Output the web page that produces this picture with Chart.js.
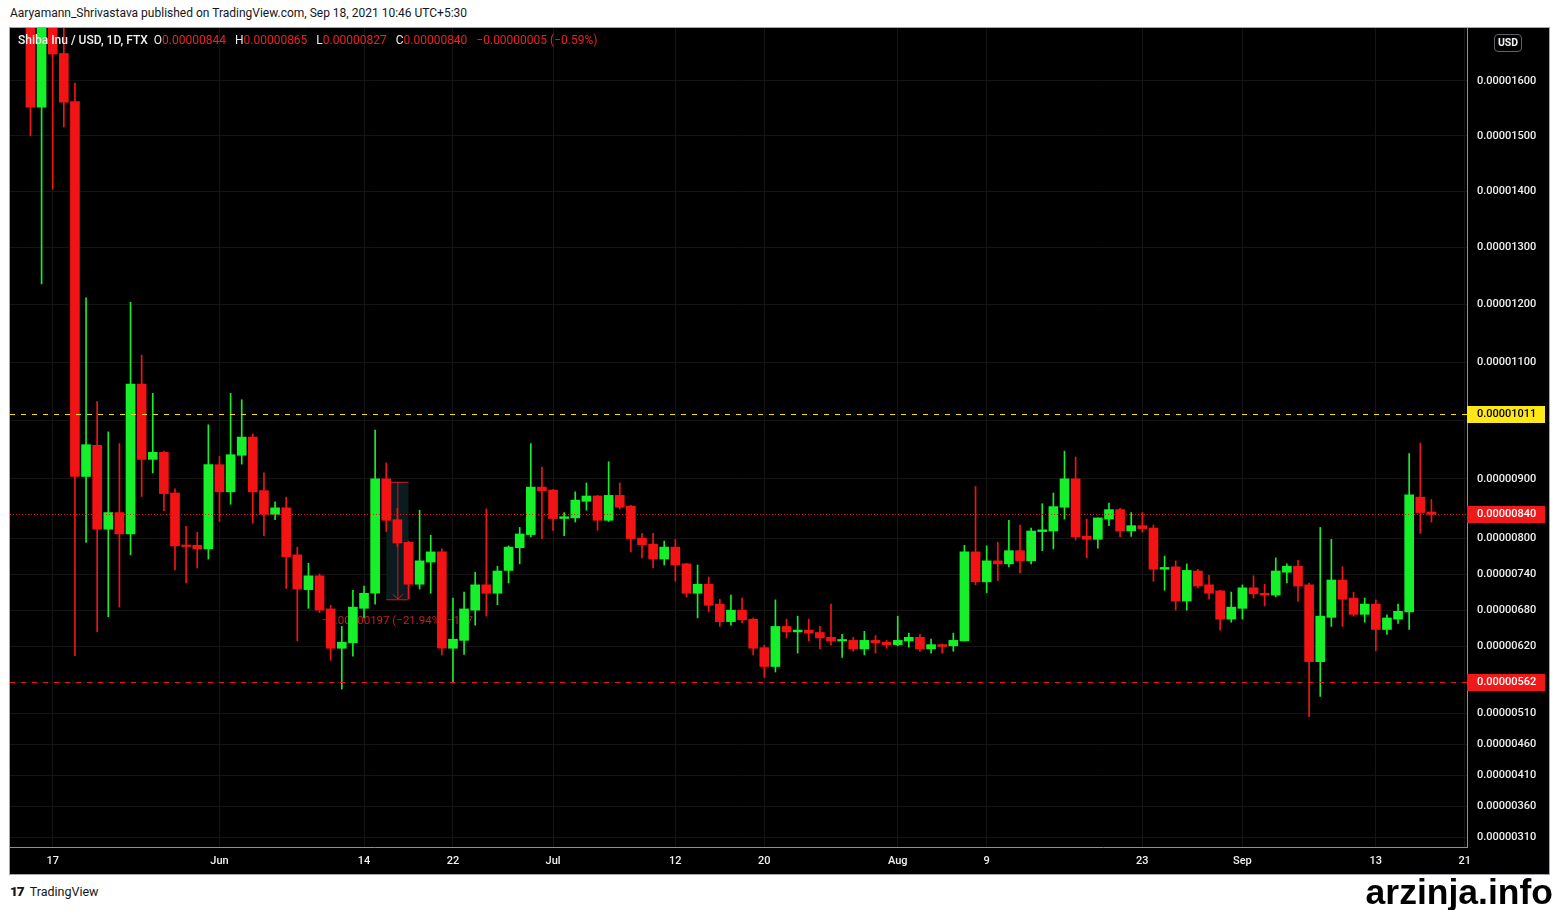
<!DOCTYPE html>
<html>
<head>
<meta charset="utf-8">
<script src="https://cdn.jsdelivr.net/npm/chart.js@4.4.1/dist/chart.umd.min.js"></script>
<style>
  html, body { margin: 0; padding: 0; background: #fff; }
  body { width: 1559px; height: 910px; position: relative; overflow: hidden; font-family: Roboto, 'Open Sans', sans-serif; }
  #pub { position: absolute; left: 10px; top: 6px; font-size: 12px; color: #131722; white-space: nowrap; }
  #frame { position: absolute; left: 9px; top: 27px; width: 1541px; height: 848px; box-sizing: border-box; border: 1px solid #a3a6af; background: #000; }
  #wrap { position: absolute; left: 0; top: 0; width: 1539px; height: 846px; }
  #legend { position: absolute; left: 8px; top: 5px; font-size: 12px; color: #eee; white-space: nowrap; pointer-events: none; }
  #legend b { font-weight: 500; color: #f2f2f2; }
  #legend .v { color: #ee2020; margin-right: 6px; }
  #usd { position: absolute; left: 1484px; top: 6px; width: 26px; height: 16px; line-height: 16px; border: 1px solid #5d606b; border-radius: 4px; font-size: 10.5px; font-weight: 700; color: #f2f2f2; text-align: center; }
  #tv { position: absolute; left: 10px; top: 883px; font-size: 12.5px; color: #131722; white-space: nowrap; }
  #tv span { font-weight: 900; font-size: 13.5px; letter-spacing: -1px; margin-right: 6px; }
  #wm { position: absolute; right: 6px; top: 872px; font-family: 'Liberation Sans', Arial, sans-serif; font-weight: 700; font-size: 35.5px; color: #000; }
</style>
</head>
<body>
<div id="pub">Aaryamann_Shrivastava published on TradingView.com, Sep 18, 2021 10:46 UTC+5:30</div>
<div id="frame">
  <div id="wrap"><canvas id="chart"></canvas></div>
  <div id="legend"><b>Shiba Inu / USD, 1D, FTX</b>&nbsp; O<span class="v">0.00000844</span> H<span class="v">0.00000865</span> L<span class="v">0.00000827</span> C<span class="v">0.00000840</span> <span class="v">−0.00000005 (−0.59%)</span></div>
  <div id="usd">USD</div>
</div>
<div id="tv"><span>17</span>TradingView</div>
<div id="wm">arzinja.info</div>

<script>
// prices are in units of 0.00000001 USD, one candle per day from 2021-05-15
const open = [
  1790, 1552, 1730, 1650, 1562, 904, 957, 815, 843, 807,
  1062, 933, 945, 876, 788, 788, 782, 924, 878, 940,
  971, 880, 840, 851, 772, 714, 737, 682, 617, 626,
  683, 708, 900, 831, 793, 723, 760, 777, 617, 630,
  680, 722, 708, 746, 784, 806, 886, 881, 833, 834,
  862, 871, 830, 872, 854, 800, 790, 765, 785, 757,
  708, 723, 690, 661, 680, 665, 618, 587, 653, 644,
  647, 643, 635, 629, 630, 616, 630, 627, 623, 629,
  635, 616, 623, 621, 629, 777, 727, 762, 757, 779,
  762, 811, 812, 852, 900, 803, 798, 832, 848, 812,
  821, 817, 748, 752, 695, 745, 722, 712, 665, 683,
  717, 708, 705, 743, 753, 722, 595, 668, 730, 700,
  673, 690, 648, 665, 677, 869, 844
];
const high = [
  1880, 1820, 1780, 1720, 1596, 1212, 1032, 980, 960, 1204,
  1112, 1046, 947, 883, 820, 810, 992, 938, 1046, 1035,
  976, 910, 861, 869, 785, 758, 740, 688, 653, 713,
  720, 983, 927, 850, 795, 847, 805, 782, 700, 710,
  743, 849, 753, 787, 818, 960, 920, 882, 843, 878,
  893, 872, 929, 893, 855, 808, 808, 795, 798, 758,
  755, 735, 698, 705, 700, 667, 622, 697, 665, 670,
  665, 653, 690, 640, 635, 645, 638, 630, 670, 642,
  640, 632, 624, 642, 788, 887, 787, 793, 830, 822,
  817, 858, 876, 947, 937, 832, 834, 859, 850, 843,
  843, 822, 770, 762, 757, 748, 738, 713, 710, 722,
  737, 723, 767, 757, 763, 725, 818, 798, 752, 710,
  700, 697, 672, 690, 943, 961, 865
];
const low = [
  1500, 1236, 1404, 1516, 605, 793, 644, 669, 685, 772,
  870, 910, 846, 747, 725, 750, 765, 828, 857, 925,
  825, 804, 831, 716, 629, 683, 676, 597, 550, 604,
  667, 690, 811, 786, 699, 715, 708, 606, 560, 607,
  655, 670, 689, 725, 757, 802, 799, 813, 804, 827,
  847, 813, 828, 849, 777, 767, 750, 755, 728, 702,
  667, 677, 653, 655, 659, 606, 569, 578, 634, 609,
  629, 616, 622, 602, 612, 606, 609, 617, 621, 619,
  612, 609, 609, 612, 629, 722, 709, 729, 752, 742,
  757, 779, 782, 832, 797, 767, 783, 821, 802, 803,
  810, 728, 713, 680, 680, 717, 698, 647, 660, 665,
  700, 687, 702, 725, 695, 505, 538, 653, 653, 670,
  660, 613, 640, 658, 648, 808, 827
];
const close = [
  1552, 1730, 1649, 1561, 904, 958, 815, 843, 807, 1062,
  933, 945, 875, 787, 786, 782, 924, 878, 941, 971,
  878, 840, 851, 769, 715, 737, 680, 617, 627, 685,
  708, 900, 830, 792, 723, 762, 777, 617, 632, 682,
  722, 708, 745, 785, 807, 886, 880, 833, 836, 864,
  871, 830, 872, 852, 799, 789, 765, 785, 755, 708,
  723, 688, 661, 680, 664, 617, 587, 653, 644, 647,
  642, 634, 629, 631, 616, 630, 626, 623, 630, 635,
  616, 623, 620, 630, 777, 727, 762, 757, 779, 762,
  812, 814, 853, 900, 802, 798, 834, 848, 812, 821,
  816, 748, 751, 695, 746, 720, 708, 665, 685, 717,
  707, 705, 745, 753, 720, 595, 670, 730, 698, 673,
  690, 648, 667, 678, 873, 843, 840
];

// x axis: day index (0 = May 15) and its labels
const xTickDays = [2, 17, 30, 38, 47, 58, 66, 78, 86, 100, 109, 121, 129];
const xTickLabels = ['17', 'Jun', '14', '22', 'Jul', '12', '20', 'Aug', '9', '23', 'Sep', '13', '21'];
const yTicks = [1600, 1500, 1400, 1300, 1200, 1100, 1000, 900, 800, 740, 680, 620, 560, 510, 460, 410, 360, 310];

// horizontal levels: alert line, last price, low line
const levels = [1011, 840, 562];
// measure tool drawn on the chart (Jun 16 -> Jun 18)
const measureDays = [32, 34];
const measurePrices = [895, 698];
const measureText = '−0.00000197 (−21.94%) −197';

const UP = '#15f02a';
const DOWN = '#f21414';
const levelStyle = [
  { line: '#f7df00', box: '#ffe81a', text: '#000', dash: [5, 6] },
  { line: '#f21414', box: '#f01818', text: '#fff', dash: [1, 2] },
  { line: '#f21414', box: '#f01818', text: '#fff', dash: [5, 6] }
];

const fmt = v => (v / 1e8).toFixed(8);

// TradingView's price axis here is slightly compressed at the top
const K = 4.74e-5;
class WarpScale extends Chart.LinearScale {
  warp(v) { return v - K * v * v; }
  unwarp(g) { return (1 - Math.sqrt(1 - 4 * K * g)) / (2 * K); }
  getPixelForValue(value) {
    if (value === null || value === undefined || isNaN(value)) return NaN;
    const g0 = this.warp(this.min), g1 = this.warp(this.max);
    return this.getPixelForDecimal((this.warp(value) - g0) / (g1 - g0));
  }
  getValueForPixel(pixel) {
    const g0 = this.warp(this.min), g1 = this.warp(this.max);
    return this.unwarp(g0 + this.getDecimalForPixel(pixel) * (g1 - g0));
  }
}
WarpScale.id = 'warp';
WarpScale.defaults = Chart.LinearScale.defaults;
Chart.register(WarpScale);

const days = open.map((_, i) => i);
const colors = open.map((o, i) => close[i] >= o ? UP : DOWN);

const overlay = {
  id: 'overlay',
  beforeDatasetsDraw(chart) {
    const { ctx, chartArea: a, scales: { x, y } } = chart;
    const x0 = x.getPixelForValue(measureDays[0]);
    const x1 = x.getPixelForValue(measureDays[1]);
    const xm = (x0 + x1) / 2;
    const yt = y.getPixelForValue(measurePrices[0]);
    const yb = y.getPixelForValue(measurePrices[1]);
    ctx.save();
    ctx.beginPath();
    ctx.rect(a.left, a.top, a.right - a.left, a.bottom - a.top);
    ctx.clip();
    ctx.fillStyle = '#0a1c20';
    ctx.fillRect(x0, yt, x1 - x0, yb - yt);
    ctx.strokeStyle = '#d01c1c';
    ctx.lineWidth = 1;
    ctx.beginPath();
    ctx.moveTo(x0 + 5, yt + 0.5); ctx.lineTo(x1, yt + 0.5);
    ctx.moveTo(x0, yb + 0.5); ctx.lineTo(x1, yb + 0.5);
    ctx.moveTo(xm + 0.5, yt); ctx.lineTo(xm + 0.5, yb);
    ctx.moveTo(xm - 4.5, yb - 5); ctx.lineTo(xm + 0.5, yb); ctx.lineTo(xm + 5.5, yb - 5);
    ctx.stroke();
    ctx.fillStyle = '#c81c1c';
    ctx.font = '11.5px Roboto';
    ctx.textAlign = 'center';
    ctx.textBaseline = 'middle';
    ctx.fillText(measureText, xm, yb + 22);
    ctx.restore();
  },
  afterDatasetsDraw(chart) {
    const { ctx, chartArea: a, scales: { y } } = chart;
    ctx.save();
    ctx.lineWidth = 1;
    levels.forEach((v, i) => {
      const py = Math.round(y.getPixelForValue(v)) + 0.5;
      ctx.strokeStyle = levelStyle[i].line;
      ctx.setLineDash(levelStyle[i].dash);
      ctx.beginPath();
      ctx.moveTo(a.left, py);
      ctx.lineTo(a.right, py);
      ctx.stroke();
    });
    ctx.restore();
  },
  afterDraw(chart) {
    const { ctx, chartArea: a, scales: { y } } = chart;
    ctx.save();
    ctx.font = '500 11px Roboto';
    ctx.textBaseline = 'middle';
    ctx.textAlign = 'left';
    levels.forEach((v, i) => {
      const py = Math.round(y.getPixelForValue(v));
      ctx.fillStyle = levelStyle[i].box;
      ctx.fillRect(a.right, py - 8, 78, 17);
      ctx.fillStyle = levelStyle[i].text;
      ctx.fillText(fmt(v), a.right + 10, py + 0.5);
    });
    ctx.restore();
  }
};

Chart.defaults.font.family = 'Roboto';

new Chart(document.getElementById('chart'), {
  type: 'bar',
  data: {
    datasets: [
      {
        label: 'body',
        data: days.map(i => ({ x: i, y: [open[i], close[i]] })),
        backgroundColor: colors,
        borderWidth: 0,
        barThickness: 9,
        minBarLength: 1.5,
        grouped: false
      },
      {
        label: 'wick',
        data: days.map(i => ({ x: i, y: [low[i], high[i]] })),
        backgroundColor: colors,
        borderWidth: 0,
        barThickness: 1,
        grouped: false
      }
    ]
  },
  options: {
    responsive: true,
    maintainAspectRatio: false,
    animation: false,
    layout: { padding: 0 },
    plugins: {
      legend: { display: false },
      tooltip: { enabled: false }
    },
    scales: {
      x: {
        type: 'linear',
        min: -1.84,
        max: 129.2,
        offset: false,
        afterBuildTicks: s => { s.ticks = xTickDays.map(v => ({ value: v })); },
        afterFit: s => { s.height = 27; s.paddingLeft = 0; s.paddingRight = 0; },
        ticks: {
          autoSkip: false,
          maxRotation: 0,
          padding: 8,
          color: '#f0f0f0',
          font: { size: 11, weight: '500' },
          callback: (v, i) => xTickLabels[i]
        },
        grid: { color: '#141414', drawTicks: false, offset: false },
        border: { color: '#8d9099' }
      },
      y: {
        type: 'warp',
        position: 'right',
        min: 295,
        max: 1697,
        afterBuildTicks: s => { s.ticks = yTicks.map(v => ({ value: v })); },
        afterFit: s => { s.width = 82; s.paddingTop = 0; s.paddingBottom = 0; },
        ticks: {
          padding: 10,
          color: '#f0f0f0',
          font: { size: 11, weight: '500' },
          callback: v => fmt(v)
        },
        grid: { color: '#141414', drawTicks: false },
        border: { color: '#8d9099' }
      }
    }
  },
  plugins: [overlay]
});
</script>
</body>
</html>
